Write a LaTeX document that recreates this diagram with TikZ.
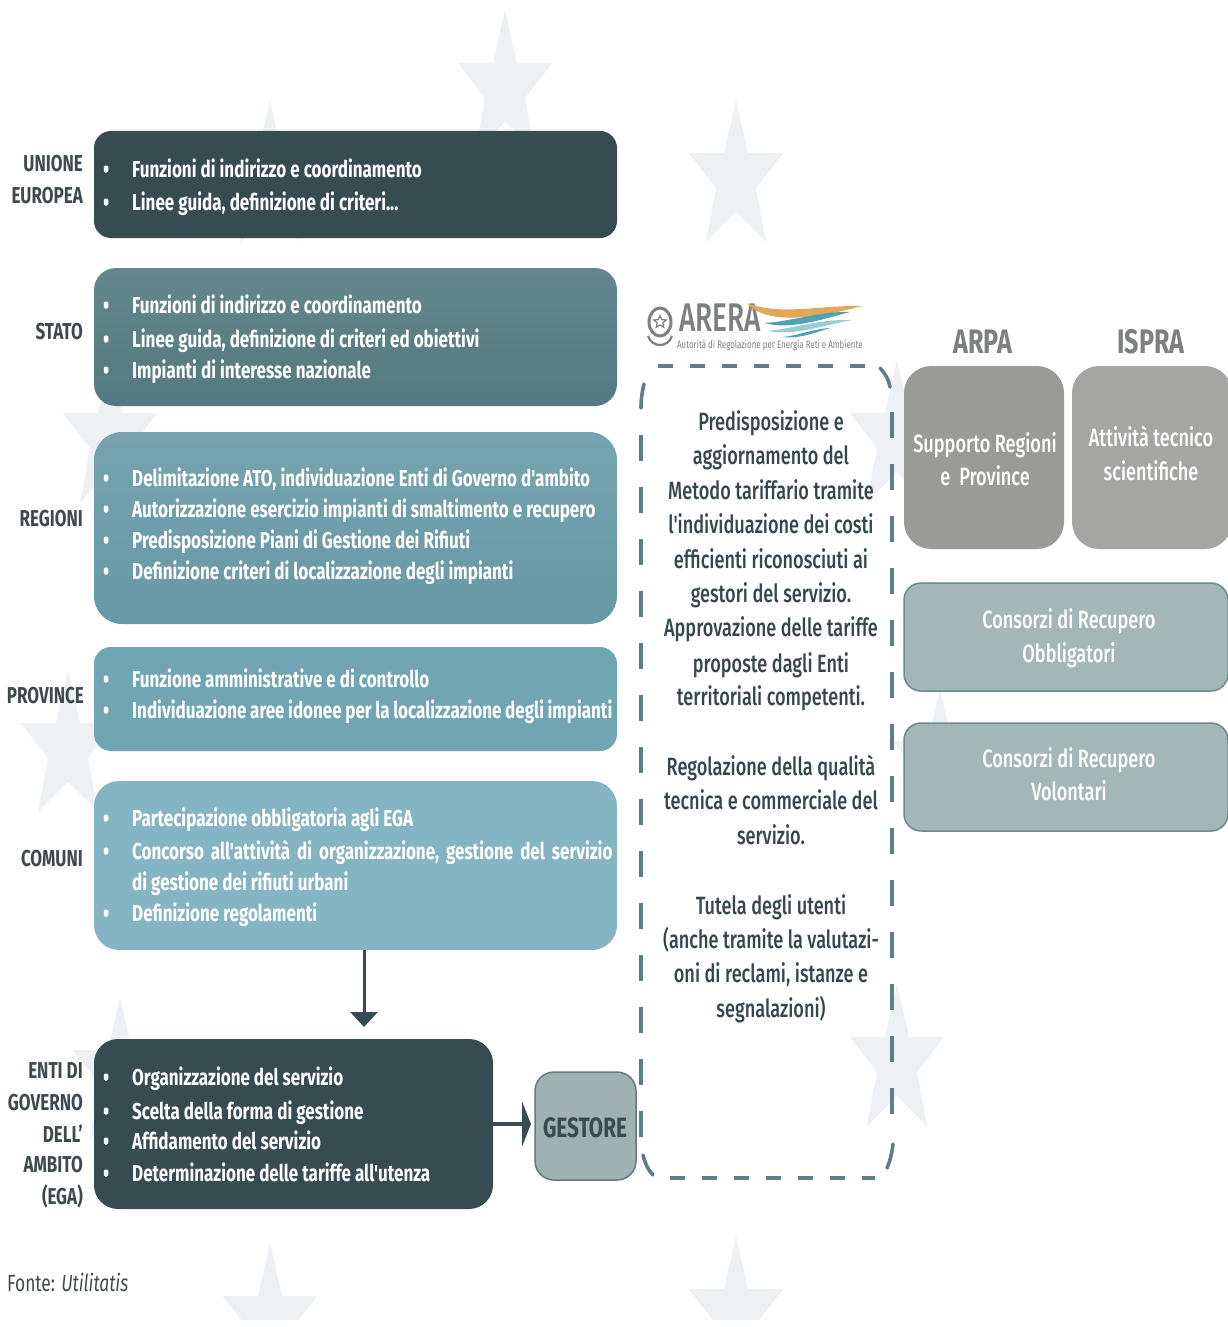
\documentclass[tikz,border=0pt]{standalone}
\usepackage{fontspec}
\setmainfont[FakeStretch=0.74]{Fira Sans}
\newfontfamily\fontebf[FakeStretch=0.74]{Fira Sans Bold}
\newfontfamily\fontemedium[FakeStretch=0.725]{Fira Sans Medium}
\newfontfamily\fontelogo[FakeStretch=0.70]{Fira Sans Medium}
\usetikzlibrary{shapes.geometric,arrows.meta}
\definecolor{cdark}{HTML}{364C51}
\definecolor{cstato}{HTML}{527A80}
\definecolor{cregioni}{HTML}{6799A5}
\definecolor{cprov}{HTML}{70A6B3}
\definecolor{ccomuni}{HTML}{85B5C2}
\definecolor{cstar}{HTML}{EEF1F3}
\definecolor{cgest}{HTML}{A0B1B1}
\definecolor{cgestb}{HTML}{5F7C7E}
\definecolor{carpa}{HTML}{9A9A96}
\definecolor{cispra}{HTML}{A5A6A4}
\definecolor{ccons}{HTML}{A4B7B7}
\definecolor{cconsb}{HTML}{6B8B90}
\definecolor{clabel}{HTML}{3F4A4E}
\definecolor{ctext}{HTML}{33474D}
\definecolor{cgreyt}{HTML}{7D7F80}
\definecolor{cframe}{HTML}{5F7F86}
\definecolor{cwaveo}{HTML}{E0A857}
\definecolor{cwavet}{HTML}{4FA3B5}
\definecolor{cwavel}{HTML}{9CCBD3}
\tikzset{
  rbox/.style={rectangle,inner sep=0pt,anchor=center},
  bline/.style={anchor=base west,text=white,font=\fontebf\fontsize{23}{26}\selectfont,inner sep=0pt},
  bdot/.style={rectangle,rounded corners=1.4pt,fill=white,minimum width=4.5pt,minimum height=7pt,inner sep=0pt},
  side/.style={anchor=base east,text=clabel,font=\fontebf\fontsize{23}{26}\selectfont,inner sep=0pt},
  midt/.style={anchor=base,text=ctext,font=\fontsize{25}{28}\selectfont\fontemedium,inner sep=0pt},
  whitet/.style={anchor=base,text=white,font=\fontsize{25}{28}\selectfont\fontemedium,inner sep=0pt},
  frameline/.style={draw=cframe,line width=3.6pt},
}
\newcommand{\bulletline}[3]{%
  \node[bdot] (d#1) at (106,#2-7) {};
  \node[bline] (t#1) at (132,#2+1) {#3};
}
\newcommand{\flagstar}[2]{%
  \fill[cstar,shift={(#1,#2)}] (0,0) -- (12,53) -- (47.5,53) -- (20,88) -- (30,142) -- (0,112) -- (-30,142) -- (-20,88) -- (-47.5,53) -- (-12,53) -- cycle;
}
\begin{document}
\begin{tikzpicture}[x=1pt,y=-1pt]
\useasboundingbox (0,0) rectangle (1228,1327);
\begin{scope}
\clip (0,0) rectangle (1228,1319);
\flagstar{505}{10}
\flagstar{736}{100}
\flagstar{270}{100}
\flagstar{110}{360}
\flagstar{68}{670}
\flagstar{120}{997}
\flagstar{270}{1243}
\flagstar{736}{1236}
\flagstar{897}{984}
\flagstar{940}{688}
\flagstar{897}{360}
\end{scope}
% left boxes
\node[rbox,fill=cdark,rounded corners=17pt,minimum width=523pt,minimum height=107pt] (ue) at (355.5,184.5) {};
\node[rbox,top color=cstato!90!white,bottom color=cstato,rounded corners=22pt,minimum width=523pt,minimum height=138pt] (stato) at (355.5,337) {};
\node[rbox,top color=cregioni!90!white,bottom color=cregioni,rounded corners=28pt,minimum width=523pt,minimum height=192pt] (reg) at (355.5,528) {};
\node[rbox,fill=cprov,rounded corners=17pt,minimum width=523pt,minimum height=104pt] (prov) at (355.5,699) {};
\node[rbox,fill=ccomuni,rounded corners=25pt,minimum width=523pt,minimum height=169pt] (com) at (355.5,865.5) {};
\node[rbox,fill=cdark,rounded corners=24pt,minimum width=399pt,minimum height=170pt] (ega) at (293.5,1124) {};
\node[rbox,fill=cgest,draw=cgestb,line width=1.5pt,rounded corners=19pt,minimum width=101pt,minimum height=108pt] (gest) at (585.5,1126) {};
\node[anchor=base,text=cdark,inner sep=0pt,font=\fontebf\fontsize{28}{30}\selectfont] (gestt) at (585,1137) {GESTORE};
% side labels
\node[side] (l1a) at (83,171) {UNIONE};
\node[side] (l1b) at (83,203) {EUROPEA};
\node[side] (l2) at (83,339) {STATO};
\node[side] (l3) at (83,526) {REGIONI};
\node[side] (l4) at (84,703) {PROVINCE};
\node[side] (l5) at (83,866) {COMUNI};
\node[side] (l6a) at (83,1078) {ENTI DI};
\node[side] (l6b) at (83,1110) {GOVERNO};
\node[side] (l6c) at (83,1142) {DELL’};
\node[side] (l6d) at (83,1172) {AMBITO};
\node[side] (l6e) at (83,1204) {(EGA)};
% bullets
\bulletline{a1}{176}{Funzioni di indirizzo e coordinamento}
\bulletline{a2}{209}{Linee guida, definizione di criteri...}
\bulletline{b1}{312}{Funzioni di indirizzo e coordinamento}
\bulletline{b2}{346}{Linee guida, definizione di criteri ed obiettivi}
\bulletline{b3}{377}{Impianti di interesse nazionale}
\bulletline{c1}{485}{Delimitazione ATO, individuazione Enti di Governo d'ambito}
\bulletline{c2}{516}{Autorizzazione esercizio impianti di smaltimento e recupero}
\bulletline{c3}{547}{Predisposizione Piani di Gestione dei Rifiuti}
\bulletline{c4}{578}{Definizione criteri di localizzazione degli impianti}
\bulletline{d1}{686}{Funzione amministrative e di controllo}
\bulletline{d2}{717}{\spaceskip=3.6pt Individuazione aree idonee per la localizzazione degli impianti}
\bulletline{e1}{825}{Partecipazione obbligatoria agli EGA}
\bulletline{e2}{858}{\spaceskip=7pt Concorso all'attività di organizzazione, gestione del servizio}
\node[bline] (te3) at (132,890) {di gestione dei rifiuti urbani};
\bulletline{e4}{920}{Definizione regolamenti}
\bulletline{f1}{1084}{Organizzazione del servizio}
\bulletline{f2}{1118}{Scelta della forma di gestione}
\bulletline{f3}{1148}{Affidamento del servizio}
\bulletline{f4}{1180}{Determinazione delle tariffe all'utenza}
% connectors
\coordinate (vstart) at (364,950);
\coordinate (vend) at (364,1027);
\coordinate (hstart) at (493,1124);
\coordinate (hend) at (531,1124);
\draw[draw=cdark,line width=3pt,-{Triangle[length=15pt,width=27pt]}] (vstart) -- (vend);
\draw[draw=cdark,line width=4pt,-{Triangle[length=9pt,width=45pt]}] (hstart) -- (hend);
% dashed frame
\draw[frameline,dash pattern=on 15pt off 17pt] (658,366) -- (866,366);
\draw[frameline,dash pattern=on 15pt off 17pt] (670,1178) -- (875,1178);
\draw[frameline,dash pattern=on 26pt off 26pt] (641,435) -- (641,1138);
\draw[frameline,dash pattern=on 26pt off 26pt] (892,412) -- (892,1118);
\draw[frameline,line cap=round] (644,384) .. controls (642,392) and (641,400) .. (641,408);
\draw[frameline,line cap=round] (880,368) .. controls (885,373) and (889,380) .. (890,387);
\draw[frameline,line cap=round] (643,1155) .. controls (645,1163) and (648,1170) .. (653,1175);
\draw[frameline,line cap=round] (893,1144) .. controls (892,1153) and (890,1161) .. (887,1168);
% middle text
\foreach \n/\y/\t in {m1/430/Predisposizione e,m2/464/aggiornamento del,m3/499/Metodo tariffario tramite,m4/533/l'individuazione dei costi,m5/568/efficienti riconosciuti ai,m6/602/gestori del servizio.,m7/636/Approvazione delle tariffe,m8/672/proposte dagli Enti,m9/705/territoriali competenti.,m10/775/Regolazione della qualità,m11/809/tecnica e commerciale del,m12/844/servizio.,m13/914/Tutela degli utenti,m14/948/(anche tramite la valutazi-,m15/982/oni di reclami{,} istanze e,m16/1017/segnalazioni)}
  {\node[midt] (\n) at (771,\y) {\t};}
% right
\node[anchor=base,text=cgreyt,inner sep=0pt,font=\fontebf\fontsize{34}{36}\selectfont] (harpa) at (983,353) {ARPA};
\node[anchor=base,text=cgreyt,inner sep=0pt,font=\fontebf\fontsize{34}{36}\selectfont] (hispra) at (1151,353) {ISPRA};
\node[rbox,fill=carpa,minimum width=160pt,minimum height=183pt,rounded corners=27pt] (arpa) at (984,457.5) {};
\node[rbox,fill=cispra,minimum width=160pt,minimum height=183pt,rounded corners=27pt] (ispra) at (1152,457.5) {};
\node[whitet] (ar1) at (985,452) {Supporto Regioni};
\node[whitet] (ar2) at (985,485) {e\ \ Province};
\node[whitet] (is1) at (1151,446) {Attività tecnico};
\node[whitet] (is2) at (1151,480) {scientifiche};
\node[rbox,fill=ccons,draw=cconsb,line width=1.5pt,rounded corners=17pt,minimum width=324pt,minimum height=108pt] (co) at (1066,637) {};
\node[rbox,fill=ccons,draw=cconsb,line width=1.5pt,rounded corners=17pt,minimum width=324pt,minimum height=108pt] (cv) at (1066,777) {};
\node[whitet] (co1) at (1069,628) {Consorzi di Recupero};
\node[whitet] (co2) at (1069,662) {Obbligatori};
\node[whitet] (cv1) at (1069,767) {Consorzi di Recupero};
\node[whitet] (cv2) at (1069,800) {Volontari};
% ARERA logo
\node[anchor=base west,text=cgreyt,inner sep=0pt,font=\fontsize{40}{44}\selectfont\fontelogo] (arera) at (679,331.5) {ARERA};
\node[anchor=base west,text=cgreyt,inner sep=0pt,font=\fontsize{10.7}{11}\selectfont] (aresub) at (677,348.5) {Autorità di Regolazione per Energia Reti e Ambiente};
\node[ellipse,draw=cgreyt,line width=3pt,minimum width=22pt,minimum height=28pt,inner sep=0pt] (emb) at (660,322) {};
\node[star,star points=5,star point ratio=2.2,draw=cgreyt,line width=1.2pt,minimum size=13pt,inner sep=0pt] (embs) at (emb) {};
\draw[cgreyt,line width=2.2pt] (648,336) .. controls (652,348) and (668,348) .. (672,336);
\fill[cwaveo] (747,303) .. controls (765,325) and (815,319) .. (862,306) .. controls (820,305) and (780,316) .. (747,303) -- cycle;
\fill[cwavet] (764,323) .. controls (790,330) and (820,320) .. (850,312) .. controls (820,311) and (795,321) .. (764,323) -- cycle;
\fill[cwavel] (768,331) .. controls (795,336) and (820,326) .. (852,320) .. controls (820,319) and (795,328) .. (768,331) -- cycle;
\fill[cwavet] (782,337) .. controls (797,339) and (812,334) .. (830,328) .. controls (812,329) and (797,336) .. (782,337) -- cycle;
% source
\node[anchor=base west,text=clabel,inner sep=0pt,font=\fontsize{23.5}{26}\selectfont] (src) at (7,1291) {Fonte: \itshape Utilitatis};
\end{tikzpicture}
\end{document}
